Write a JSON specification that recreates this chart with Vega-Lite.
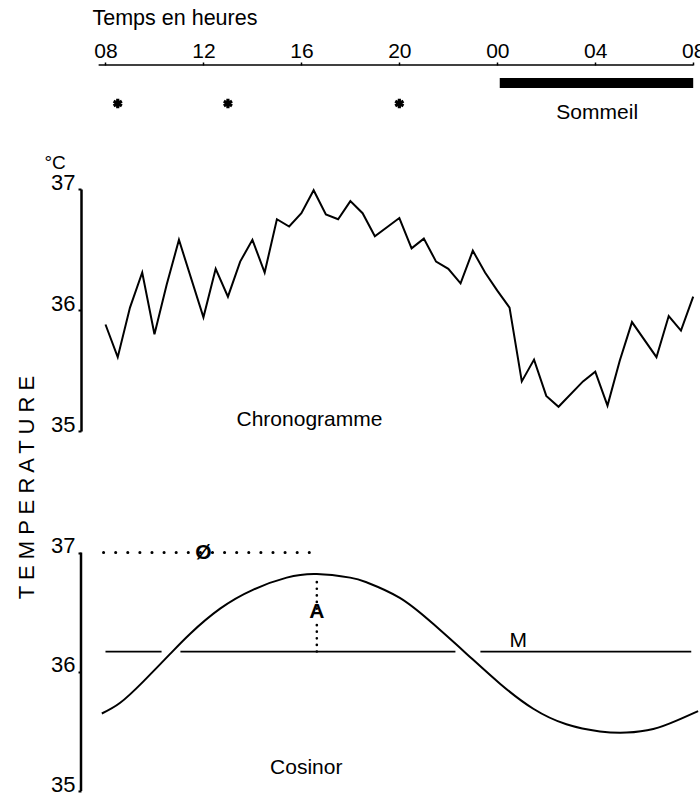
{
  "$schema": "https://vega.github.io/schema/vega-lite/v6.json",
  "background": "white",
  "padding": {"left": 14, "top": 7, "right": 0, "bottom": 0},
  "spacing": 62,
  "bounds": "flush",
  "config": {
    "font": "Liberation Sans",
    "view": {"stroke": null},
    "axis": {"grid": false, "labelColor": "black", "tickColor": "black", "domainColor": "black", "titleColor": "black", "labelFont": "Liberation Sans", "titleFont": "Liberation Sans"}
  },
  "datasets": {
    "chronogramme": [
      {"heure": 8.0, "temperature": 35.88}, {"heure": 8.5, "temperature": 35.61}, {"heure": 9.0, "temperature": 36.02},
      {"heure": 9.5, "temperature": 36.31}, {"heure": 10.0, "temperature": 35.80}, {"heure": 10.5, "temperature": 36.21},
      {"heure": 11.0, "temperature": 36.58}, {"heure": 12.0, "temperature": 35.94}, {"heure": 12.5, "temperature": 36.34},
      {"heure": 13.0, "temperature": 36.11}, {"heure": 13.5, "temperature": 36.40}, {"heure": 14.0, "temperature": 36.58},
      {"heure": 14.5, "temperature": 36.31}, {"heure": 15.0, "temperature": 36.75}, {"heure": 15.5, "temperature": 36.69},
      {"heure": 16.0, "temperature": 36.80}, {"heure": 16.5, "temperature": 36.99}, {"heure": 17.0, "temperature": 36.79},
      {"heure": 17.5, "temperature": 36.75}, {"heure": 18.0, "temperature": 36.90}, {"heure": 18.5, "temperature": 36.80},
      {"heure": 19.0, "temperature": 36.61}, {"heure": 20.0, "temperature": 36.76}, {"heure": 20.5, "temperature": 36.51},
      {"heure": 21.0, "temperature": 36.59}, {"heure": 21.5, "temperature": 36.40}, {"heure": 22.0, "temperature": 36.34},
      {"heure": 22.5, "temperature": 36.22}, {"heure": 23.0, "temperature": 36.49}, {"heure": 23.5, "temperature": 36.31},
      {"heure": 24.0, "temperature": 36.16}, {"heure": 24.5, "temperature": 36.02}, {"heure": 25.0, "temperature": 35.41},
      {"heure": 25.5, "temperature": 35.59}, {"heure": 26.0, "temperature": 35.29}, {"heure": 26.5, "temperature": 35.20},
      {"heure": 27.5, "temperature": 35.41}, {"heure": 28.0, "temperature": 35.49}, {"heure": 28.5, "temperature": 35.21},
      {"heure": 29.0, "temperature": 35.58}, {"heure": 29.5, "temperature": 35.90}, {"heure": 30.5, "temperature": 35.61},
      {"heure": 31.0, "temperature": 35.95}, {"heure": 31.5, "temperature": 35.83}, {"heure": 32.0, "temperature": 36.11}
    ],
    "cosinor": [
      {"heure": 7.85, "temperature": 35.65}, {"heure": 8.6, "temperature": 35.74}, {"heure": 9.55, "temperature": 35.92},
      {"heure": 10.64, "temperature": 36.15}, {"heure": 11.46, "temperature": 36.32}, {"heure": 12.68, "temperature": 36.53},
      {"heure": 14.04, "temperature": 36.69}, {"heure": 15.4, "temperature": 36.79}, {"heure": 16.63, "temperature": 36.82},
      {"heure": 17.99, "temperature": 36.79}, {"heure": 18.67, "temperature": 36.75}, {"heure": 20.02, "temperature": 36.62},
      {"heure": 21.39, "temperature": 36.40}, {"heure": 22.75, "temperature": 36.15}, {"heure": 24.11, "temperature": 35.90},
      {"heure": 25.47, "temperature": 35.69}, {"heure": 26.82, "temperature": 35.56}, {"heure": 28.19, "temperature": 35.50},
      {"heure": 29.28, "temperature": 35.49}, {"heure": 30.37, "temperature": 35.52}, {"heure": 31.32, "temperature": 35.59},
      {"heure": 32.2, "temperature": 35.67}
    ]
  },
  "vconcat": [
    {
      "width": 622,
      "height": 62,
      "layer": [
        {
          "data": {"values": [{"debut": 7.72, "fin": 32.0}]},
          "mark": {"type": "rule", "strokeWidth": 1.5, "color": "black"},
          "encoding": {
            "x": {"field": "debut", "type": "quantitative", "scale": {"domain": [7, 32.4], "nice": false, "zero": false},
              "axis": {"orient": "top", "values": [8, 12, 16, 20, 24, 28, 32],
                "labelExpr": "(datum.value % 24 < 10 ? '0' : '') + (datum.value % 24)",
                "domain": false, "tickSize": 3, "tickWidth": 1.5, "labelPadding": 5, "labelBaseline": "alphabetic",
                "labelFontSize": 21, "labelFlush": false, "labelOverlap": false,
                "title": "Temps en heures", "titleX": 11, "titleY": -41, "titleAlign": "left", "titleBaseline": "alphabetic",
                "titleFontSize": 21.5, "titleFontWeight": "normal"}},
            "x2": {"field": "fin"},
            "y": {"datum": 0, "type": "quantitative", "scale": {"domain": [0, 3], "reverse": true, "nice": false}, "axis": null}
          }
        },
        {
          "data": {"values": [{"debut": 24.1, "fin": 32.0, "niveau": 0.87}]},
          "mark": {"type": "rule", "strokeWidth": 10, "color": "black", "strokeCap": "butt"},
          "encoding": {
            "x": {"field": "debut", "type": "quantitative"},
            "x2": {"field": "fin"},
            "y": {"field": "niveau", "type": "quantitative"}
          }
        },
        {
          "data": {"values": [{"heure": 8.5, "niveau": 1.86}, {"heure": 13.0, "niveau": 1.86}, {"heure": 20.0, "niveau": 1.86}]},
          "mark": {"type": "point", "shape": "M0,-1L0,1M-0.87,-0.5L0.87,0.5M-0.87,0.5L0.87,-0.5", "filled": false, "stroke": "black", "strokeWidth": 3.2, "size": 90, "opacity": 1},
          "encoding": {
            "x": {"field": "heure", "type": "quantitative"},
            "y": {"field": "niveau", "type": "quantitative"}
          }
        },
        {
          "data": {"values": [{"heure": 28.08, "niveau": 2.61, "texte": "Sommeil"}]},
          "mark": {"type": "text", "fontSize": 21, "baseline": "alphabetic", "align": "center", "color": "black"},
          "encoding": {
            "x": {"field": "heure", "type": "quantitative"},
            "y": {"field": "niveau", "type": "quantitative"},
            "text": {"field": "texte"}
          }
        }
      ]
    },
    {
      "width": 622,
      "height": 242,
      "layer": [
        {
          "data": {"name": "chronogramme"},
          "mark": {"type": "line", "strokeWidth": 2, "color": "black"},
          "encoding": {
            "x": {"field": "heure", "type": "quantitative", "scale": {"domain": [7, 32.4], "nice": false, "zero": false}, "axis": null},
            "y": {"field": "temperature", "type": "quantitative", "scale": {"domain": [35, 37], "nice": false, "zero": false},
              "axis": {"values": [35, 36, 37], "labelExpr": "format(datum.value, 'd')", "tickSize": 3, "tickWidth": 2, "labelPadding": 3, "labelFontSize": 22,
                "labelBaseline": "alphabetic", "domainWidth": 2.5, "labelFlush": false, "labelOverlap": false, "labelBound": false,
                "title": "°C", "titleAngle": 0, "titleAlign": "left", "titleBaseline": "alphabetic",
                "titleX": -37, "titleY": -21, "titleFontSize": 19, "titleFontWeight": "normal"}}
          }
        },
        {
          "data": {"values": [{"heure": 16.33, "temperature": 35.04, "texte": "Chronogramme"}]},
          "mark": {"type": "text", "fontSize": 21, "baseline": "alphabetic", "align": "center", "color": "black"},
          "encoding": {
            "x": {"field": "heure", "type": "quantitative"},
            "y": {"field": "temperature", "type": "quantitative"},
            "text": {"field": "texte"}
          }
        }
      ]
    },
    {
      "width": 622,
      "height": 298,
      "layer": [
        {
          "data": {"values": [{"heure": 7, "bas": 35, "haut": 37}]},
          "mark": {"type": "rule", "strokeWidth": 2.5, "color": "black"},
          "encoding": {
            "x": {"field": "heure", "type": "quantitative", "scale": {"domain": [7, 32.4], "nice": false, "zero": false}, "axis": null},
            "y": {"field": "bas", "type": "quantitative", "scale": {"domain": [35, 37.5], "nice": false, "zero": false},
              "axis": {"values": [35, 36, 37], "labelExpr": "format(datum.value, 'd')", "domain": false, "tickSize": 3, "tickWidth": 2, "labelPadding": 3, "labelFontSize": 22,
                "labelBaseline": "alphabetic", "labelFlush": false, "labelOverlap": false,
                "title": "T E M P E R A T U R E", "titleAngle": 270, "titleAlign": "center", "titleBaseline": "alphabetic",
                "titleX": -48, "titleY": -6, "titleFontSize": 22, "titleFontWeight": "normal"}},
            "y2": {"field": "haut"}
          }
        },
        {
          "data": {"name": "cosinor"},
          "mark": {"type": "line", "strokeWidth": 2, "color": "black", "interpolate": "natural"},
          "encoding": {
            "x": {"field": "heure", "type": "quantitative"},
            "y": {"field": "temperature", "type": "quantitative"}
          }
        },
        {
          "data": {"values": [{"debut": 8.0, "fin": 10.29, "mesor": 36.17}, {"debut": 11.06, "fin": 22.29, "mesor": 36.17}, {"debut": 23.31, "fin": 31.92, "mesor": 36.17}]},
          "mark": {"type": "rule", "strokeWidth": 1.8, "color": "black"},
          "encoding": {
            "x": {"field": "debut", "type": "quantitative"},
            "x2": {"field": "fin"},
            "y": {"field": "mesor", "type": "quantitative"}
          }
        },
        {
          "data": {"values": [{"debut": 7.92, "fin": 16.63, "niveau": 37}]},
          "mark": {"type": "rule", "strokeWidth": 3, "color": "black", "strokeDash": [0.1, 12], "strokeCap": "round"},
          "encoding": {
            "x": {"field": "debut", "type": "quantitative"},
            "x2": {"field": "fin"},
            "y": {"field": "niveau", "type": "quantitative"}
          }
        },
        {
          "data": {"values": [{"heure": 16.63, "bas": 36.53, "haut": 36.80}, {"heure": 16.63, "bas": 36.17, "haut": 36.40}]},
          "mark": {"type": "rule", "strokeWidth": 2.6, "color": "black", "strokeDash": [0.1, 6.5], "strokeCap": "round"},
          "encoding": {
            "x": {"field": "heure", "type": "quantitative"},
            "y": {"field": "bas", "type": "quantitative"},
            "y2": {"field": "haut"}
          }
        },
        {
          "data": {"values": [{"heure": 12.0, "temperature": 37.0, "texte": "Ø"}]},
          "mark": {"type": "text", "fontSize": 21, "fontWeight": "bold", "baseline": "middle", "align": "center", "color": "black"},
          "encoding": {
            "x": {"field": "heure", "type": "quantitative"},
            "y": {"field": "temperature", "type": "quantitative"},
            "text": {"field": "texte"}
          }
        },
        {
          "data": {"values": [{"heure": 16.63, "temperature": 36.45, "texte": "A"}]},
          "mark": {"type": "text", "fontSize": 21, "fontWeight": "bold", "baseline": "alphabetic", "align": "center", "color": "black"},
          "encoding": {
            "x": {"field": "heure", "type": "quantitative"},
            "y": {"field": "temperature", "type": "quantitative"},
            "text": {"field": "texte"}
          }
        },
        {
          "data": {"values": [{"heure": 24.86, "temperature": 36.21, "texte": "M"}, {"heure": 16.2, "temperature": 35.146, "texte": "Cosinor"}]},
          "mark": {"type": "text", "fontSize": 21, "baseline": "alphabetic", "align": "center", "color": "black"},
          "encoding": {
            "x": {"field": "heure", "type": "quantitative"},
            "y": {"field": "temperature", "type": "quantitative"},
            "text": {"field": "texte"}
          }
        }
      ]
    }
  ]
}
